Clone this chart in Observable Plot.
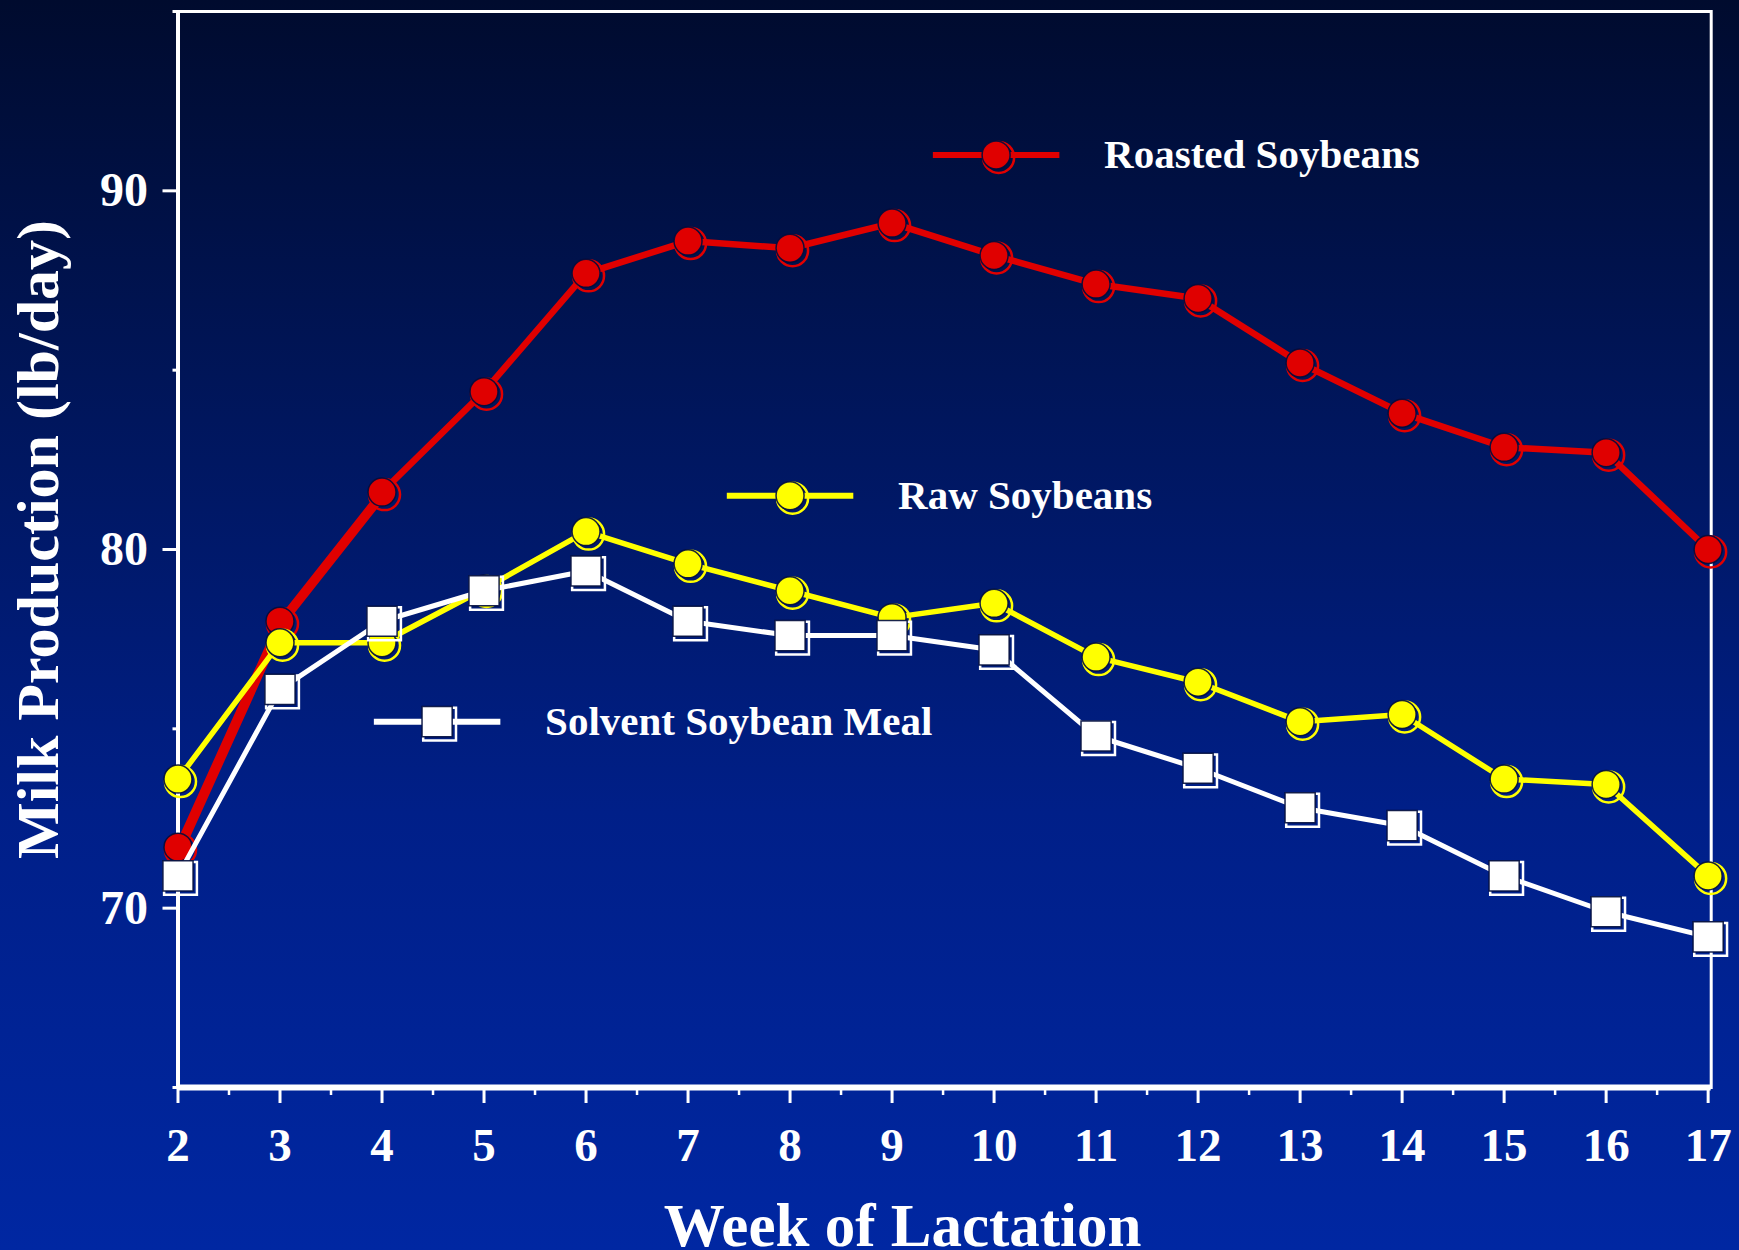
<!DOCTYPE html>
<html><head><meta charset="utf-8">
<script src="https://cdn.jsdelivr.net/npm/d3@7"></script>
<script src="https://cdn.jsdelivr.net/npm/@observablehq/plot@0.6"></script>
<style>
html,body{margin:0;padding:0;width:1739px;height:1250px;overflow:hidden;
  background:linear-gradient(to bottom,#000b2e 0%,#001558 30%,#001f88 65%,#0027a2 100%);}
#chart{position:absolute;left:0;top:0;}
</style></head><body><div id="chart"></div>
<script>
// ---- data ----
const weeks   = [2,3,4,5,6,7,8,9,10,11,12,13,14,15,16,17];
const roasted = [71.7,78.0,81.6,84.4,87.7,88.6,88.4,89.1,88.2,87.4,87.0,85.2,83.8,82.85,82.7,80.0];
const raw     = [73.6,77.4,77.4,78.9,80.5,79.6,78.85,78.1,78.5,77.0,76.3,75.2,75.4,73.6,73.45,70.9];
const solvent = [70.9,76.1,78.0,78.85,79.4,78.0,77.6,77.6,77.2,74.8,73.9,72.8,72.3,70.9,69.9,69.2];
const seriesNames  = ["Roasted Soybeans","Raw Soybeans","Solvent Soybean Meal"];
const seriesColors = ["#e00000","#ffff00","#ffffff"];
const seriesSymbols = ["circle","circle","square"];
const yTicks = [70,80,90];
const yMinorTicks = [65,75,85,95];
const xMinorTicks = [2.5,3.5,4.5,5.5,6.5,7.5,8.5,9.5,10.5,11.5,12.5,13.5,14.5,15.5,16.5];
const legendWeek  = [10.02, 8.0, 4.54];
const legendValue = [91.0, 81.5, 75.2];
const xLabel = "Week of Lactation";
const yLabel = "Milk Production (lb/day)";

const valuesBySeries = [roasted, raw, solvent];
const seriesRows = valuesBySeries.map((vals, i) =>
  weeks.map((w, j) => ({week: w, value: vals[j], series: seriesNames[i]})));
const legendRows = seriesNames.map((n, i) => ({name: n, x: legendWeek[i], y: legendValue[i], color: seriesColors[i], symbol: seriesSymbols[i]}));

const FONT = "'Liberation Serif','Times New Roman',serif";
const DARK = "rgba(0,12,60,0.9)";

function seriesMarks(rows, color, symbol, width) {
  const isSq = symbol === "square";
  return [
    Plot.line(rows, {x: "week", y: "value", stroke: color, strokeWidth: width, strokeLinejoin: "round"}),
    Plot.dot(rows, {x: "week", y: "value", symbol, r: isSq ? 18.5 : 15.5, stroke: color, strokeWidth: 2.5, fill: "none", dx: 2.5, dy: 2.5}),
    Plot.dot(rows, {x: "week", y: "value", symbol, r: isSq ? 17 : 14, fill: color, stroke: DARK, strokeWidth: 1.5})
  ];
}

function legendMarks(item) {
  const isSq = item.symbol === "square";
  const d = [item];
  return [
    Plot.link(d, {x1: r => r.x - 0.62, x2: r => r.x + 0.62, y1: "y", y2: "y", stroke: item.color, strokeWidth: 6}),
    Plot.dot(d, {x: "x", y: "y", symbol: item.symbol, r: isSq ? 18.5 : 15.5, stroke: item.color, strokeWidth: 2.5, fill: "none", dx: 2.5, dy: 2.5}),
    Plot.dot(d, {x: "x", y: "y", symbol: item.symbol, r: isSq ? 17 : 14, fill: item.color, stroke: DARK, strokeWidth: 1.5}),
    Plot.text(d, {x: "x", y: "y", text: "name", dx: 108, textAnchor: "start", lineAnchor: "middle",
      fill: "white", fontSize: 41, fontWeight: "bold", fontFamily: FONT})
  ];
}

const chart = Plot.plot({
  width: 1739, height: 1250,
  marginLeft: 177.5, marginRight: 28.3, marginTop: 11, marginBottom: 163,
  style: {background: "transparent", color: "white", overflow: "visible", fontFamily: FONT},
  x: {domain: [2, 17.03], axis: null},
  y: {domain: [65, 95], axis: null},
  marks: [
    Plot.frame({stroke: "white", strokeWidth: 3}),
    Plot.ruleY([65], {stroke: "white", strokeWidth: 6}),
    Plot.ruleX([2], {stroke: "white", strokeWidth: 4}),
    Plot.axisX(weeks, {anchor: "bottom", tickSize: 16, tickPadding: 24, strokeWidth: 3,
      fontSize: 47, fontWeight: "bold", fontFamily: FONT, fill: "white", stroke: "white", label: null}),
    Plot.axisX(xMinorTicks, {anchor: "bottom", tickSize: 8, strokeWidth: 2.5, tickFormat: () => "", stroke: "white", label: null}),
    Plot.axisY(yTicks, {anchor: "left", tickSize: 15, tickPadding: 15, strokeWidth: 3,
      fontSize: 48, fontWeight: "bold", fontFamily: FONT, fill: "white", stroke: "white", label: null}),
    Plot.axisY(yMinorTicks, {anchor: "left", tickSize: 5, strokeWidth: 3, tickFormat: () => "", stroke: "white", label: null}),
    ...seriesMarks(seriesRows[0].slice(0, 3), seriesColors[0], "circle", 6.5).slice(0, 1).map(() =>
      Plot.line(seriesRows[0].slice(0, 3), {x: "week", y: "value", stroke: seriesColors[0], strokeWidth: 6.5, dx: 4})),
    ...seriesMarks(seriesRows[0], seriesColors[0], seriesSymbols[0], 6.5),
    ...seriesMarks(seriesRows[1], seriesColors[1], seriesSymbols[1], 5.5),
    ...seriesMarks(seriesRows[2], seriesColors[2], seriesSymbols[2], 5),
    ...legendRows.flatMap(legendMarks),
    Plot.text([xLabel], {frameAnchor: "bottom", dx: -42, dy: 138.5, lineAnchor: "middle", textAnchor: "middle",
      fill: "white", fontSize: 61, fontWeight: "bold", fontFamily: FONT}),
    Plot.text([yLabel], {frameAnchor: "left", rotate: -90, dx: -139, dy: -10, lineAnchor: "middle", textAnchor: "middle",
      fill: "white", fontSize: 60, fontWeight: "bold", fontFamily: FONT})
  ]
});
document.getElementById("chart").appendChild(chart);
</script></body></html>
